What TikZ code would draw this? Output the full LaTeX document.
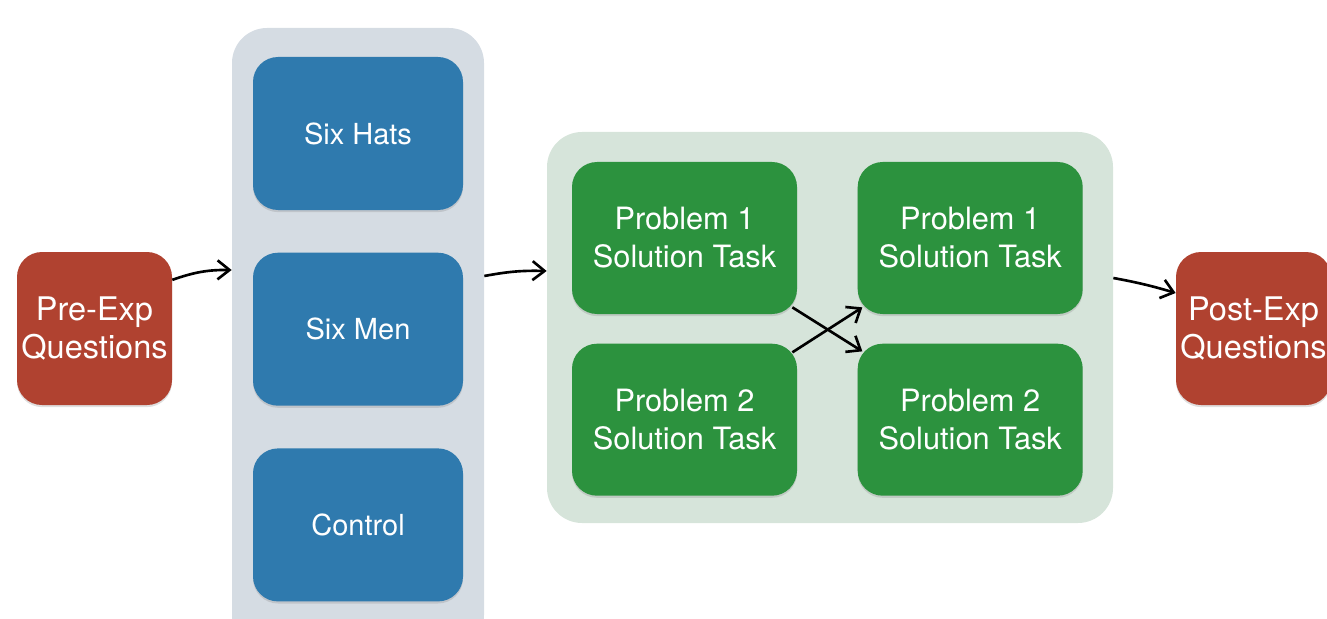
\documentclass[tikz,border=0pt]{standalone}
\usepackage{fontspec}
\setmainfont{TeX Gyre Heros}
\usetikzlibrary{positioning, arrows.meta, shadows}
\definecolor{hatblue}{RGB}{47,122,174}
\definecolor{taskgreen}{RGB}{44,146,62}
\definecolor{askred}{RGB}{176,66,48}
\definecolor{greypanel}{RGB}{213,220,227}
\definecolor{greenpanel}{RGB}{214,228,218}
\tikzset{
    >={Straight Barb[length=2.4mm, width=3.8mm]}, % open arrow heads
    flow/.style={->, line width=1.5pt}, % connectors between the stages
    box/.style={rounded corners=0.5cm, text=white, align=center, inner sep=0pt,
        font=\fontsize{17.5}{21.6}\selectfont,
        drop shadow={opacity=0.25, shadow xshift=0pt, shadow yshift=-1.2pt}}, % every coloured box
    panel/.style={rounded corners=0.7cm, inner sep=0pt}, % light groups behind the boxes
    ask/.style={box, fill=askred, minimum width=3.1cm, minimum height=3.06cm,
        font=\fontsize{18.5}{21.6}\selectfont},
    hat/.style={box, fill=hatblue, minimum width=4.2cm, minimum height=3.06cm,
        font=\fontsize{16.5}{20}\selectfont},
    task/.style={box, fill=taskgreen, minimum width=4.5cm, minimum height=3.04cm}
}
\begin{document}
\begin{tikzpicture}
    \useasboundingbox (0,0) rectangle (26.54,-12.36);
    \clip (0,0) rectangle (26.54,-12.36);

    % Groups
    \node[panel, fill=greypanel, minimum width=5.04cm, minimum height=12.44cm] (G) at (7.16,-6.78) {};
    \node[panel, fill=greenpanel, minimum width=11.32cm, minimum height=7.82cm] (T) at (16.6,-6.55) {};

    % Boxes
    \node[ask] (PRE) at (1.89,-6.57) {Pre-Exp\\Questions};
    \node[hat] (SH) at (7.16,-2.67) {Six Hats};
    \node[hat, below=0.84cm of SH] (SM) {Six Men};
    \node[hat, below=0.84cm of SM] (CT) {Control};
    \node[task] (P1A) at (13.69,-4.76) {Problem 1\\Solution Task};
    \node[task, below=0.58cm of P1A] (P2A) {Problem 2\\Solution Task};
    \node[task, right=1.2cm of P1A] (P1B) {Problem 1\\Solution Task};
    \node[task, right=1.2cm of P2A] (P2B) {Problem 2\\Solution Task};
    \node[ask] (POST) at (25.07,-6.57) {Post-Exp\\Questions};

    % Arrows
    \draw[flow] (PRE.32) to[bend left=10] ([yshift=1.38cm]G.west);
    \draw[flow] ([yshift=1.26cm]G.east) to[bend left=6] ([yshift=1.13cm]T.west);
    \draw[flow] ([yshift=0.99cm]T.east) to[bend left=3] ([yshift=0.71cm]POST.west);
    \draw[flow] ([shift={(-0.1,0.14)}]P1A.south east) -- ([shift={(0.1,-0.16)}]P2B.north west);
    \draw[flow] ([shift={(-0.1,-0.18)}]P2A.north east) -- ([shift={(0.1,0.14)}]P1B.south west);
\end{tikzpicture}
\end{document}
